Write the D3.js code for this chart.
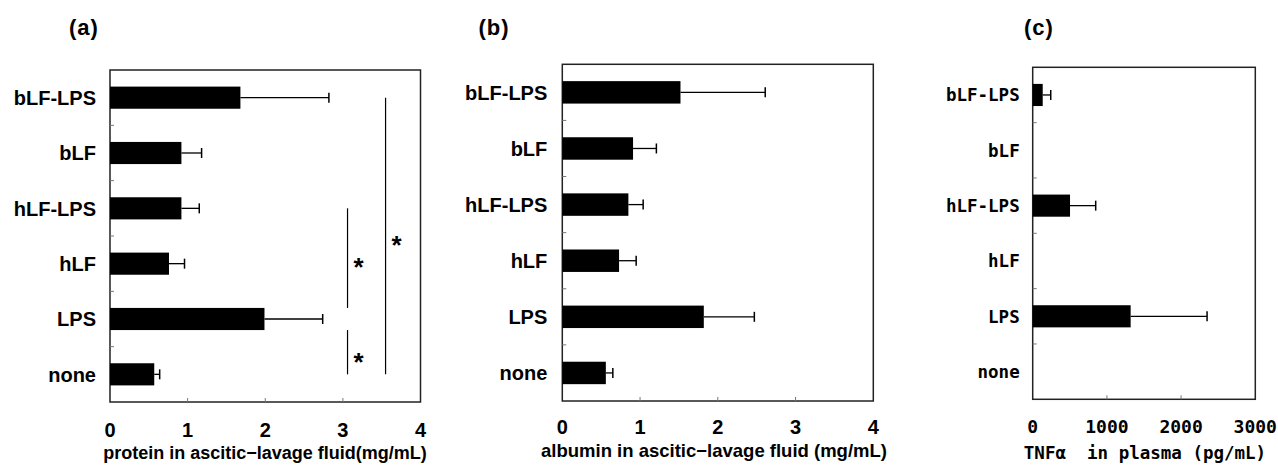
<!DOCTYPE html>
<html>
<head>
<meta charset="utf-8">
<script src="https://cdn.jsdelivr.net/npm/d3@7"></script>
<style>
  body { margin: 0; background: #fff; }
  text { font-family: "Liberation Sans", Arial, sans-serif; font-weight: bold; fill: #000; }
</style>
</head>
<body>
<svg id="chart" width="1278" height="465"></svg>
<script>
const width = 1278;
const height = 465;

// groups, top to bottom
const groups = ['bLF-LPS', 'bLF', 'hLF-LPS', 'hLF', 'LPS', 'none'];

// (a) protein in ascitic-lavage fluid, mg/mL
const proteinMean = [1.68, 0.92, 0.92, 0.76, 1.99, 0.57];
const proteinErr  = [1.14, 0.26, 0.23, 0.20, 0.75, 0.07];

// (b) albumin in ascitic-lavage fluid, mg/mL
const albuminMean = [1.52, 0.91, 0.85, 0.73, 1.82, 0.56];
const albuminErr  = [1.09, 0.30, 0.19, 0.22, 0.65, 0.09];

// (c) TNF-alpha in plasma, pg/mL (no bar = not detected)
const tnfMean = [135, 0, 503, 0, 1320, 0];
const tnfErr  = [108, 0, 346, 0, 1030, 0];

const proteinTicks = [0, 1, 2, 3, 4];
const albuminTicks = [0, 1, 2, 3, 4];
const tnfTicks = [0, 1000, 2000, 3000];

// significance brackets in panel (a): from group, to group, x value
const sigLines = [
  { from: 'hLF-LPS', to: 'LPS', at: 3.06, top: 'center', bottom: 'barTop' },
  { from: 'LPS', to: 'none', at: 3.06, top: 'barBottom', bottom: 'center' },
  { from: 'bLF-LPS', to: 'none', at: 3.55, top: 'center', bottom: 'center' }
];

const svg = d3.select('#chart');

function drawPanel(p) {
  const g = svg.append('g');

  const x = d3.scaleLinear()
    .domain(p.domain)
    .range([p.left, p.right]);

  const y = d3.scaleBand()
    .domain(groups)
    .range([p.top, p.bottom])
    .paddingInner(0.6)
    .paddingOuter(0.3);

  const step = y.step();
  const bw = y.bandwidth();

  // frame
  g.append('rect')
    .attr('x', p.left)
    .attr('y', p.top)
    .attr('width', p.right - p.left)
    .attr('height', p.bottom - p.top)
    .attr('fill', 'none')
    .attr('stroke', '#222')
    .attr('stroke-width', 1.5);

  // small ticks between groups on the left side
  g.selectAll('.ytick')
    .data(groups.slice(1))
    .join('line')
    .attr('x1', p.left)
    .attr('x2', p.left + 4)
    .attr('y1', d => y(d) - step * 0.3)
    .attr('y2', d => y(d) - step * 0.3)
    .attr('stroke', '#777')
    .attr('stroke-width', 1);

  // x ticks pointing up from the bottom
  g.selectAll('.xtick')
    .data(p.ticks.slice(1, -1))
    .join('line')
    .attr('x1', d => x(d))
    .attr('x2', d => x(d))
    .attr('y1', p.bottom)
    .attr('y2', p.bottom - 4)
    .attr('stroke', '#777')
    .attr('stroke-width', 1);

  const rows = groups.map((name, i) => ({ name, mean: p.mean[i], err: p.err[i] }))
    .filter(d => d.mean > 0);

  // bars
  g.selectAll('.bar')
    .data(rows)
    .join('rect')
    .attr('x', x(0))
    .attr('y', d => y(d.name))
    .attr('width', d => x(d.mean) - x(0))
    .attr('height', bw)
    .attr('fill', '#000');

  // error bars
  g.selectAll('.err')
    .data(rows)
    .join('line')
    .attr('x1', d => x(d.mean))
    .attr('x2', d => x(d.mean + d.err))
    .attr('y1', d => y(d.name) + bw / 2)
    .attr('y2', d => y(d.name) + bw / 2)
    .attr('stroke', '#000')
    .attr('stroke-width', 1.3);

  g.selectAll('.cap')
    .data(rows)
    .join('line')
    .attr('x1', d => x(d.mean + d.err))
    .attr('x2', d => x(d.mean + d.err))
    .attr('y1', d => y(d.name) + bw / 2 - 5)
    .attr('y2', d => y(d.name) + bw / 2 + 5)
    .attr('stroke', '#000')
    .attr('stroke-width', 1.5);

  // group labels
  g.selectAll('.glabel')
    .data(groups)
    .join('text')
    .attr('x', p.left - p.labelGap)
    .attr('y', d => y(d) + bw / 2)
    .attr('dy', '0.36em')
    .attr('text-anchor', 'end')
    .style('font-family', p.font)
    .style('font-size', p.labelSize + 'px')
    .text(d => d);

  // tick labels
  g.selectAll('.xlabel')
    .data(p.ticks)
    .join('text')
    .attr('x', d => x(d))
    .attr('y', p.tickY)
    .attr('dy', '0.36em')
    .attr('text-anchor', 'middle')
    .style('font-family', p.font)
    .style('font-size', p.tickSize + 'px')
    .text(d => d);

  // axis title
  g.append('text')
    .attr('x', p.titleX)
    .attr('y', p.titleY)
    .attr('dy', '0.36em')
    .attr('text-anchor', 'middle')
    .style('font-family', p.font)
    .style('font-size', p.titleSize + 'px')
    .style('white-space', 'pre')
    .text(p.title);

  // panel letter
  g.append('text')
    .attr('x', p.letterX)
    .attr('y', 27)
    .attr('dy', '0.36em')
    .attr('text-anchor', 'middle')
    .style('font-size', '22px')
    .style('letter-spacing', '1px')
    .text(p.letter);

  return { x, y, g };
}

const panelA = drawPanel({
  letter: '(a)', letterX: 84,
  left: 110, right: 420.5, top: 70, bottom: 402,
  domain: [0, 4], ticks: proteinTicks,
  mean: proteinMean, err: proteinErr,
  font: '"Liberation Sans", Arial, sans-serif',
  labelSize: 20, labelGap: 14, tickSize: 20, tickY: 430,
  title: 'protein in ascitic\u2212lavage fluid(mg/mL)', titleX: 265, titleY: 453, titleSize: 18
});

drawPanel({
  letter: '(b)', letterX: 494,
  left: 562.3, right: 873.3, top: 64.3, bottom: 401,
  domain: [0, 4], ticks: albuminTicks,
  mean: albuminMean, err: albuminErr,
  font: '"Liberation Sans", Arial, sans-serif',
  labelSize: 20, labelGap: 15, tickSize: 20, tickY: 427,
  title: 'albumin in ascitic\u2212lavage fluid (mg/mL)', titleX: 714, titleY: 450, titleSize: 18.5
});

drawPanel({
  letter: '(c)', letterX: 1039,
  left: 1032.7, right: 1255.3, top: 67.3, bottom: 399.3,
  domain: [0, 3000], ticks: tnfTicks,
  mean: tnfMean, err: tnfErr,
  font: '"DejaVu Sans Mono", "Liberation Mono", monospace',
  labelSize: 17.5, labelGap: 13, tickSize: 18, tickY: 427,
  title: 'TNF\u03b1  in plasma (pg/mL)', titleX: 1145, titleY: 453, titleSize: 17.5
});

// significance lines and asterisks for panel (a)
function edgeY(y, name, where) {
  const bw = y.bandwidth();
  if (where === 'barTop') return y(name);
  if (where === 'barBottom') return y(name) + bw;
  return where === 'center' ? y(name) + bw / 2 : y(name);
}

sigLines.forEach(s => {
  const { x, y, g } = panelA;
  const y1 = edgeY(y, s.from, s.top);
  const y2 = edgeY(y, s.to, s.bottom);
  g.append('line')
    .attr('x1', x(s.at)).attr('x2', x(s.at))
    .attr('y1', y1).attr('y2', y2)
    .attr('stroke', '#000')
    .attr('stroke-width', 1.2);
  g.append('text')
    .attr('x', x(s.at) + 11)
    .attr('y', (y1 + y2) / 2 + 9)
    .attr('dy', '0.36em')
    .attr('text-anchor', 'middle')
    .style('font-size', '26px')
    .text('*');
});
</script>
</body>
</html>
